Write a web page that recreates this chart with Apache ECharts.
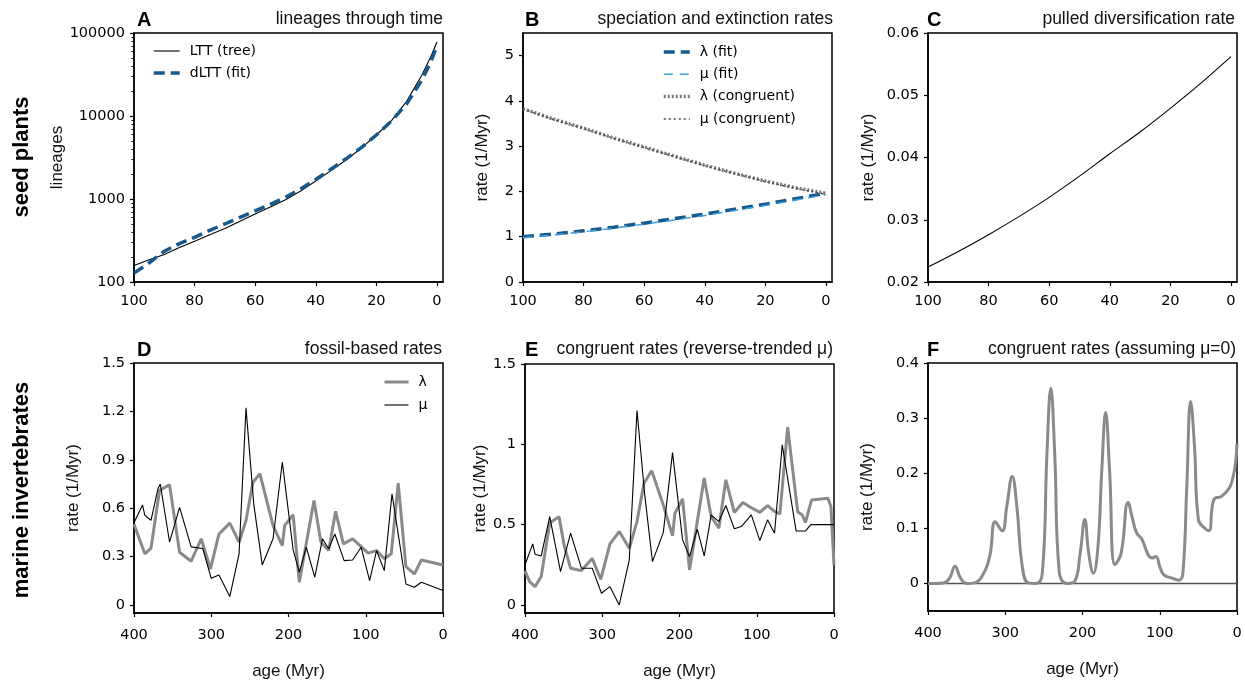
<!DOCTYPE html>
<html><head><meta charset="utf-8">
<script src="https://cdn.jsdelivr.net/npm/echarts@6/dist/echarts.min.js"></script>
<style>html,body{margin:0;padding:0;background:#fff}#c{width:1245px;height:683px}</style>
</head><body><div id="c"></div>
<script>
// ---- Panel A: lineages through time ----
const ageA = [100,95,90,85,80,75,70,65,60,55,50,45,40,35,30,25,20,15,10,5,2,0];
const lttTree = [158,185,215,260,310,370,440,540,660,800,980,1250,1650,2200,2950,4100,5900,8800,15000,31000,52000,78000];
const dltt = [128,170,235,290,345,420,500,600,720,860,1050,1320,1720,2280,3050,4150,5900,8700,14000,27000,45000,70000];
const ticksA = [100,1000,10000,100000];
const minorA = [200,300,400,500,600,700,800,900,2000,3000,4000,5000,6000,7000,8000,9000,20000,30000,40000,50000,60000,70000,80000,90000];

// ---- Panel B: speciation and extinction rates ----
const ageB = [100,90,80,70,60,50,40,30,20,10,0];
const lamFit = [1.00,1.06,1.13,1.21,1.30,1.40,1.50,1.61,1.72,1.84,1.96];
const muFit = [0.98,1.04,1.11,1.19,1.28,1.37,1.47,1.58,1.69,1.81,1.93];
const lamCong = [3.83,3.60,3.40,3.18,2.98,2.78,2.58,2.40,2.23,2.08,1.96];
const muCong = [3.82,3.59,3.39,3.17,2.97,2.77,2.57,2.39,2.22,2.07,1.94];
const ticksB = [0,1,2,3,4,5];

// ---- Panel C: pulled diversification rate ----
const ageC = [100,90,80,70,60,50,40,30,20,10,0];
const pdr = [0.0224,0.0249,0.0276,0.0305,0.0336,0.0370,0.0406,0.0441,0.0479,0.0519,0.0562];
const ticksC = [0.02,0.03,0.04,0.05,0.06];

const ticksTopX = [0,20,40,60,80,100];

// ---- Panel D: fossil-based rates ----
const dLamAge = [400,386,378,367,354,341,326,313,301,290,276,264,255,246,237,220,208,205,194,186,167,158,148,139,129,117,106,97,86,76,67,58,48,37,28,0];
const dLam = [0.50,0.317,0.352,0.71,0.745,0.327,0.271,0.41,0.223,0.44,0.507,0.389,0.523,0.761,0.813,0.492,0.368,0.492,0.559,0.141,0.648,0.389,0.337,0.581,0.379,0.41,0.362,0.321,0.337,0.286,0.317,0.755,0.238,0.192,0.279,0.248];
const dMuAge = [400,389,386,378,369,366,354,341,326,311,300,290,276,264,255,245,234,220,208,194,186,177,166,156,148,140,128,117,106,95,86,76,66,48,37,28,0];
const dMu = [0.51,0.62,0.555,0.525,0.72,0.75,0.39,0.605,0.36,0.35,0.165,0.186,0.052,0.317,1.222,0.627,0.248,0.41,0.886,0.341,0.203,0.358,0.172,0.41,0.348,0.44,0.275,0.279,0.358,0.151,0.337,0.213,0.689,0.13,0.11,0.141,0.089];
const ticksD = [0,0.3,0.6,0.9,1.2,1.5];

// ---- Panel E: congruent rates (reverse-trended mu) ----
const eLamAge = [400,394,387,379,368,356,349,341,327,313,302,290,278,265,255,246,236,221,209,206,196,187,168,159,149,140,129,118,107,96,86,77,70,60,47,41,37,29,8,4,0];
const eLam = [0.21,0.145,0.114,0.177,0.51,0.55,0.364,0.229,0.214,0.29,0.16,0.38,0.457,0.353,0.519,0.758,0.835,0.623,0.43,0.57,0.66,0.218,0.79,0.551,0.478,0.779,0.576,0.638,0.605,0.576,0.619,0.582,0.567,1.107,0.58,0.56,0.513,0.654,0.665,0.613,0.25];
const eMuAge = [400,390,387,379,368,354,341,327,313,301,290,278,265,255,245,235,221,209,196,187,177,168,159,149,140,129,120,107,96,86,77,67,49,37,30,0];
const eMu = [0.249,0.38,0.316,0.305,0.55,0.208,0.447,0.229,0.229,0.073,0.114,0.0,0.28,1.211,0.685,0.27,0.45,0.948,0.405,0.301,0.472,0.305,0.561,0.519,0.619,0.474,0.488,0.561,0.401,0.53,0.447,0.997,0.46,0.46,0.5,0.5];
const ticksE = [0,0.5,1,1.5];

// ---- Panel F: congruent rates (assuming mu=0) ----
const fAge = [400,380,372,365,358,350,340,330,320,313,304,298,291,285,278,270,260,252,246,241,236,230,220,210,203,197,192,186,180,175,170,165,158,150,141,135,130,123,115,110,105,100,95,85,75,70,65,60,55,50,40,36,30,20,10,5,2,0];
const fLam = [0,0.001,0.01,0.031,0.01,0,0.001,0.013,0.05,0.112,0.095,0.14,0.194,0.14,0.031,0.001,0,0.019,0.236,0.354,0.236,0.019,0,0.004,0.055,0.116,0.055,0.019,0.067,0.206,0.31,0.206,0.034,0.055,0.147,0.116,0.092,0.08,0.052,0.046,0.049,0.031,0.016,0.01,0.006,0.019,0.176,0.33,0.248,0.116,0.098,0.096,0.152,0.158,0.173,0.194,0.218,0.254];
const fZeroAge = [400,0];
const fZero = [0,0];
const ticksF = [0,0.1,0.2,0.3,0.4];

const ticksBottomX = [0,100,200,300,400];

function zip(a,b){return a.map((x,i)=>[x,b[i]]);}

const TICKFONT = 'DejaVu Sans';
const TXTFONT = 'Liberation Sans';
const TICKSIZE = 14.5;

const ST = {
  tree:{color:'#000', width:1.1, type:'solid'},
  dltt:{color:'#17598a', width:3.5, type:[11,6]},
  lamFit:{color:'#17598a', width:3.5, type:[11,6]},
  muFit:{color:'#3d9ee0', width:1.5, type:[9,7]},
  lamCong:{color:'#7a7a7a', width:3.5, type:[2,2]},
  muCong:{color:'#4a4a4a', width:1.5, type:[2,3]},
  greyThick:{color:'#8a8a8a', width:3, type:'solid'},
  blackThin:{color:'#000', width:1.1, type:'solid'},
  zero:{color:'#555', width:1.5, type:'solid'}
};

function gridBox(left, top, width, height){
  return {left, top, width, height, show:true, borderColor:'#000', borderWidth:1.5, backgroundColor:'transparent', containLabel:false};
}
function xAx(gi, min, max, ticks, margin, name){
  const ax = {
    type:'value', gridIndex:gi, min, max, inverse:true,
    axisLine:{show:true, onZero:false, lineStyle:{color:'#000', width:1.5}},
    axisTick:{show:true, length:4, customValues:ticks, lineStyle:{color:'#000', width:1.2}},
    axisLabel:{color:'#000', fontFamily:TICKFONT, fontSize:TICKSIZE, margin, customValues:ticks, formatter:v=>String(v)},
    splitLine:{show:false}
  };
  if (name){
    ax.name = name; ax.nameLocation='middle'; ax.nameGap=50;
    ax.nameTextStyle = {fontFamily:TXTFONT, fontSize:17, color:'#111'};
  }
  return ax;
}
function yAx(gi, min, max, ticks, name, gap, fmt){
  return {
    type:'value', gridIndex:gi, min, max,
    axisLine:{show:true, onZero:false, lineStyle:{color:'#000', width:1.5}},
    axisTick:{show:true, length:4, customValues:ticks, lineStyle:{color:'#000', width:1.2}},
    axisLabel:{color:'#000', fontFamily:TICKFONT, fontSize:TICKSIZE, margin:9, customValues:ticks, formatter: fmt || (v=>String(v))},
    splitLine:{show:false},
    name, nameLocation:'middle', nameGap:gap,
    nameTextStyle:{fontFamily:TXTFONT, fontSize:17, color:'#111'}
  };
}
function line(name, xi, yi, data, st, extra){
  return Object.assign({
    name, type:'line', xAxisIndex:xi, yAxisIndex:yi, data, symbol:'none',
    color:st.color, lineStyle:{color:st.color, width:st.width, type:st.type}, itemStyle:{color:st.color}, silent:true, animation:false
  }, extra||{});
}
function letter(t, left, top){
  return {text:t, left, top, padding:0, textStyle:{fontFamily:TXTFONT, fontWeight:'bold', fontSize:20, color:'#000'}};
}
function ptitle(t, right, top){
  return {text:t, right, top, padding:0, textStyle:{fontFamily:TXTFONT, fontWeight:'normal', fontSize:17.5, color:'#111'}};
}
function legendBox(left, top, w, gap, items){
  return {left, top, orient:'vertical', itemWidth:w, itemHeight:14, itemGap:gap, padding:0,
    data:items.map(([name, st])=>({name, lineStyle:{color:st.color, width:st.width, type:st.type}, itemStyle:{opacity:0, borderWidth:0}})),
    itemStyle:{opacity:0, borderWidth:0},
    textStyle:{fontFamily:TICKFONT, fontSize:14, color:'#000', padding:[0,0,0,5]}, selectedMode:false};
}

const chart = echarts.init(document.getElementById('c'), null, {renderer:'canvas'});

const option = {
  backgroundColor:'#fff',
  animation:false,
  title:[
    letter('A',137,10), ptitle('lineages through time',802,10),
    letter('B',525,10), ptitle('speciation and extinction rates',412,10),
    letter('C',927,10), ptitle('pulled diversification rate',10,10),
    letter('D',137,340), ptitle('fossil-based rates',803,340),
    letter('E',525,340), ptitle('congruent rates (reverse-trended \u03bc)',412,340),
    letter('F',927,340), ptitle('congruent rates (assuming \u03bc=0)',9,340)
  ],
  graphic:[
    {type:'text', x:22, y:157, rotation:Math.PI/2, style:{text:'seed plants', fontFamily:TXTFONT, fontWeight:'bold', fontSize:22, fill:'#000', align:'center', verticalAlign:'middle'}},
    {type:'text', x:22, y:490, rotation:Math.PI/2, style:{text:'marine invertebrates', fontFamily:TXTFONT, fontWeight:'bold', fontSize:22, fill:'#000', align:'center', verticalAlign:'middle'}}
  ],
  legend:[
    legendBox(152, 44, 26, 8, [['LTT (tree)',ST.tree],['dLTT (fit)',ST.dltt]]),
    legendBox(662, 45, 26, 8.3, [['\u03bb (fit)',ST.lamFit],['\u03bc (fit)',ST.muFit],['\u03bb (congruent)',ST.lamCong],['\u03bc (congruent)',ST.muCong]]),
    legendBox(383, 375, 24, 9, [['\u03bb',ST.greyThick],['\u03bc',ST.blackThin]])
  ],
  grid:[
    gridBox(134,33,309,249),
    gridBox(523,33,309,249),
    gridBox(928,33,309,249),
    gridBox(134,363,309,250),
    gridBox(525,364,309,249),
    gridBox(928,363,309,248)
  ],
  xAxis:[
    xAx(0,-2,100,ticksTopX,12),
    xAx(1,-2,100,ticksTopX,12),
    xAx(2,-2,100,ticksTopX,12),
    xAx(3,0,400,ticksBottomX,15,'age (Myr)'),
    xAx(4,0,400,ticksBottomX,15,'age (Myr)'),
    xAx(5,0,400,ticksBottomX,15,'age (Myr)')
  ],
  yAxis:[
    {type:'log', logBase:10, gridIndex:0, min:100, max:100000,
     axisLine:{show:true, onZero:false, lineStyle:{color:'#000', width:1.5}},
     axisTick:{show:true, length:4, lineStyle:{color:'#000', width:1.2}},
     axisLabel:{color:'#000', fontFamily:TICKFONT, fontSize:TICKSIZE, margin:9, formatter:v=>String(Math.round(v))},
     splitLine:{show:false},
     name:'lineages', nameLocation:'middle', nameGap:68,
     nameTextStyle:{fontFamily:TXTFONT, fontSize:17, color:'#111'}},
    yAx(1,0,5.5,ticksB,'rate (1/Myr)',32),
    yAx(2,0.02,0.06,ticksC,'rate (1/Myr)',51, v=>v.toFixed(2)),
    yAx(3,-0.05,1.5,ticksD,'rate (1/Myr)',52, v=>(Math.round(v*10)/10).toString()),
    yAx(4,-0.05,1.5,ticksE,'rate (1/Myr)',36, v=>(Math.round(v*10)/10).toString()),
    yAx(5,-0.05,0.4,ticksF,'rate (1/Myr)',52, v=>(Math.round(v*10)/10).toString()),
    {type:'log', logBase:10, gridIndex:0, min:100, max:100000, position:'left',
     axisLine:{show:false, onZero:false}, axisLabel:{show:false}, splitLine:{show:false},
     axisTick:{show:true, length:2.5, customValues:minorA, lineStyle:{color:'#000', width:1}}}
  ],
  series:[
    line('LTT (tree)',0,0,zip(ageA,lttTree),ST.tree),
    line('dLTT (fit)',0,0,zip(ageA,dltt),ST.dltt),

    line('\u03bb (fit)',1,1,zip(ageB,lamFit),ST.lamFit),
    line('\u03bc (fit)',1,1,zip(ageB,muFit),ST.muFit),
    line('\u03bb (congruent)',1,1,zip(ageB,lamCong),ST.lamCong),
    line('\u03bc (congruent)',1,1,zip(ageB,muCong),ST.muCong),

    line('pdr',2,2,zip(ageC,pdr),ST.tree,{smooth:0.3}),

    line('\u03bb',3,3,zip(dLamAge,dLam),ST.greyThick),
    line('\u03bc',3,3,zip(dMuAge,dMu),ST.blackThin),

    line('\u03bb E',4,4,zip(eLamAge,eLam),ST.greyThick),
    line('\u03bc E',4,4,zip(eMuAge,eMu),ST.blackThin),

    line('zero F',5,5,zip(fZeroAge,fZero),ST.zero),
    line('\u03bb F',5,5,zip(fAge,fLam),ST.greyThick,{smooth:0.45})
  ]
};
chart.setOption(option);
</script></body></html>
